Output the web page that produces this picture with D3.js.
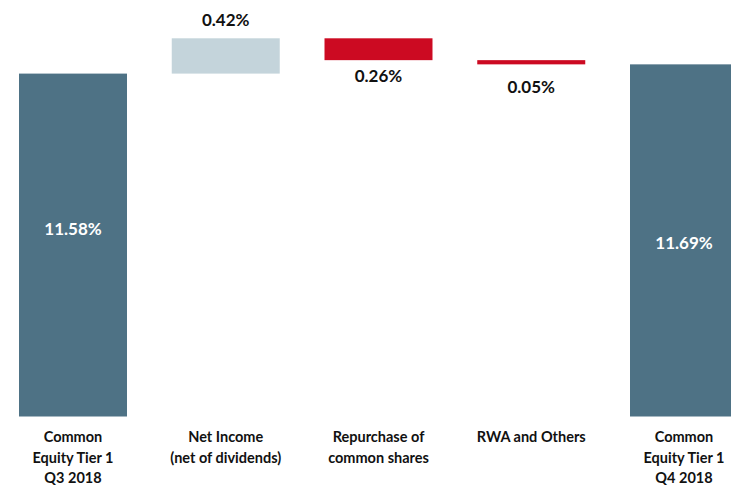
<!DOCTYPE html>
<html>
<head>
<meta charset="utf-8">
<script src="https://cdn.jsdelivr.net/npm/d3@7"></script>
<style>
  html, body { margin: 0; padding: 0; background: #fff; }
  svg { display: block; }
  text { font-family: Lato, "Open Sans", sans-serif; font-weight: 700; }
</style>
</head>
<body>
<svg id="chart" width="731" height="487"></svg>
<script>
// CET1 ratio bridge, Q3 2018 -> Q4 2018
const categories = [
  ["Common", "Equity Tier 1", "Q3 2018"],
  ["Net Income", "(net of dividends)"],
  ["Repurchase of", "common shares"],
  ["RWA and Others"],
  ["Common", "Equity Tier 1", "Q4 2018"]
];
const kinds   = ["total", "delta", "delta", "delta", "total"];
const values  = [11.58, 0.42, -0.26, -0.05, 11.69];
const valueLabels = ["11.58%", "0.42%", "0.26%", "0.05%", "11.69%"];
const axisFloor = 7.5;
const axisTop = 12.0;

const colors = { total: "#4e7285", up: "#c4d4db", down: "#cc0a22" };

// running start/end of each step
let running = 0;
const steps = values.map((v, i) => {
  let start, end;
  if (kinds[i] === "total") { start = axisFloor; end = v; running = v; }
  else { start = running; end = running + v; running = end; }
  return { i, start, end, kind: kinds[i], v };
});

const svg = d3.select("#chart");

const x = d3.scaleBand()
  .domain(d3.range(categories.length))
  .range([19, 738])
  .paddingInner(0.293)
  .paddingOuter(0);

const y = d3.scaleLinear()
  .domain([axisFloor, axisTop])
  .range([416.5, 38.3]);

const fillOf = d => d.kind === "total" ? colors.total : (d.v >= 0 ? colors.up : colors.down);

svg.append("g").selectAll("rect")
  .data(steps)
  .join("rect")
  .attr("x", d => x(d.i))
  .attr("width", x.bandwidth())
  .attr("y", d => y(Math.max(d.start, d.end)))
  .attr("height", d => Math.abs(y(d.start) - y(d.end)))
  .attr("fill", fillOf);

// value labels
const labelOffset = [-17, -19, 15, 22, 2];
svg.append("g").selectAll("text")
  .data(steps)
  .join("text")
  .attr("x", d => x(d.i) + x.bandwidth() / 2)
  .attr("y", d => {
    const top = y(Math.max(d.start, d.end));
    const bottom = y(Math.min(d.start, d.end));
    if (d.kind === "total") return (top + bottom) / 2 + labelOffset[d.i];
    if (d.v >= 0) return top + labelOffset[d.i];
    return bottom + labelOffset[d.i];
  })
  .attr("text-anchor", "middle")
  .attr("dominant-baseline", "central")
  .attr("font-size", 17)
  .attr("fill", d => d.kind === "total" ? "#ffffff" : "#111111")
  .text(d => valueLabels[d.i]);

// category labels
const cat = svg.append("g").selectAll("text")
  .data(categories)
  .join("text")
  .attr("x", (d, i) => x(i) + x.bandwidth() / 2)
  .attr("y", 437)
  .attr("text-anchor", "middle")
  .attr("font-size", 14.5)
  .attr("fill", "#111111");
cat.selectAll("tspan")
  .data(d => d)
  .join("tspan")
  .attr("x", function () { return this.parentNode.getAttribute("x"); })
  .attr("dy", (d, j) => j === 0 ? "0.35em" : "20.5")
  .text(d => d);
</script>
</body>
</html>
